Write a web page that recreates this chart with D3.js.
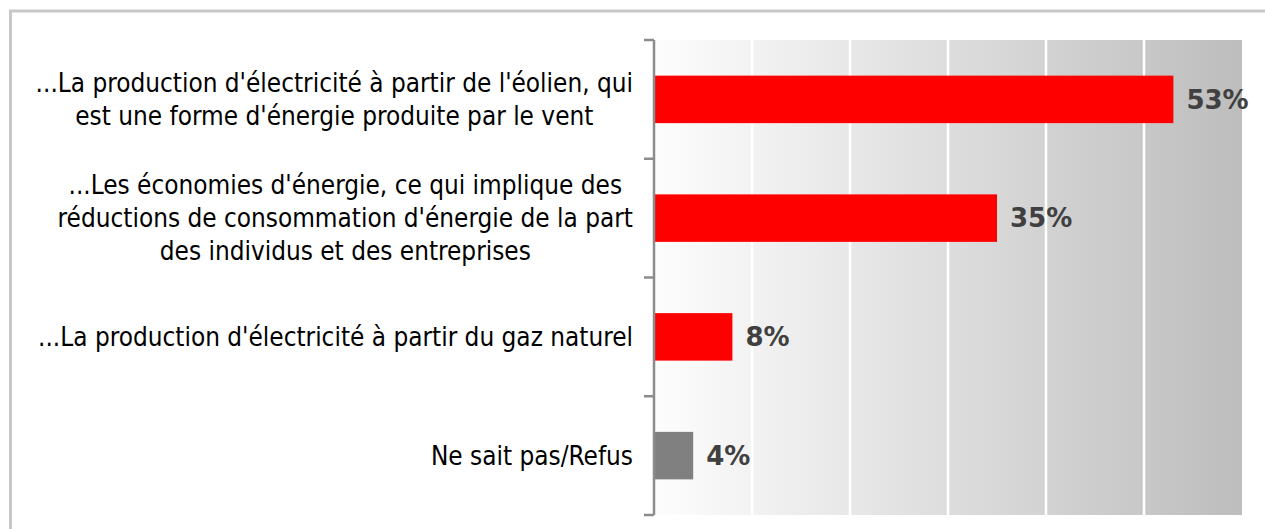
<!DOCTYPE html>
<html>
<head>
<meta charset="utf-8">
<script src="https://cdn.jsdelivr.net/npm/d3@7"></script>
<style>
  body { margin: 0; background: #fff; }
  svg { display: block; }
  .lbl { font-family: "DejaVu Sans Condensed", "DejaVu Sans", sans-serif; font-stretch: condensed; font-size: 25.9px; fill: #000; }
  .val { font-family: "DejaVu Sans", sans-serif; font-weight: bold; font-size: 26px; fill: #404040; }
</style>
</head>
<body>
<div id="chart"></div>
<script>
// categories (each label split into its lines)
const categories = [
  ["...La production d'électricité à partir de l'éolien, qui", "est une forme d'énergie produite par le vent"],
  ["...Les économies d'énergie, ce qui implique des", "réductions de consommation d'énergie de la part", "des individus et des entreprises"],
  ["...La production d'électricité à partir du gaz naturel"],
  ["Ne sait pas/Refus"]
];
const values = [53, 35, 8, 4];
const barColors = ["#ff0000", "#ff0000", "#ff0000", "#808080"];
const gridTicks = [10, 20, 30, 40, 50];

const W = 1265, H = 529;
const margin = { top: 40, left: 654, right: 23, bottom: 14 };

const svg = d3.select('#chart')
  .append('svg')
  .attr('width', W)
  .attr('height', H);

// outer frame
svg.append('rect')
  .attr('x', 10.5).attr('y', 11)
  .attr('width', W + 20).attr('height', H + 20)
  .attr('fill', 'none')
  .attr('stroke', '#c8c8c8')
  .attr('stroke-width', 3);

const x = d3.scaleLinear().domain([0, 60]).range([margin.left, W - margin.right]);
const y = d3.scaleBand()
  .domain(d3.range(categories.length))
  .range([margin.top, H - margin.bottom])
  .paddingInner(0.6)
  .paddingOuter(0.3);

// background gradient
const grad = svg.append('defs').append('linearGradient')
  .attr('id', 'bg').attr('x1', '0%').attr('x2', '100%');
grad.append('stop').attr('offset', '0%').attr('stop-color', '#fdfdfd');
grad.append('stop').attr('offset', '100%').attr('stop-color', '#bdbdbd');

svg.append('rect')
  .attr('x', x(0)).attr('y', margin.top)
  .attr('width', x(60) - x(0))
  .attr('height', H - margin.bottom - margin.top)
  .attr('fill', 'url(#bg)');

// white gridlines
svg.selectAll('.grid')
  .data(gridTicks)
  .enter()
  .append('line')
  .attr('x1', d => x(d)).attr('x2', d => x(d))
  .attr('y1', margin.top).attr('y2', H - margin.bottom)
  .attr('stroke', '#fff')
  .attr('stroke-width', 2.5);

// bars
svg.selectAll('.bar')
  .data(values)
  .enter()
  .append('rect')
  .attr('x', x(0) + 1)
  .attr('y', (d, i) => y(i))
  .attr('width', d => x(d) - x(0) - 1)
  .attr('height', y.bandwidth())
  .attr('fill', (d, i) => barColors[i]);

// value labels
svg.selectAll('.val')
  .data(values)
  .enter()
  .append('text')
  .attr('class', 'val')
  .attr('x', d => x(d) + 13)
  .attr('y', (d, i) => y(i) + y.bandwidth() / 2)
  .attr('dy', '0.36em')
  .text(d => d + '%');

// y axis
const axisTop = margin.top, axisBottom = H - margin.bottom;
const axisG = svg.append('g').attr('stroke', '#8c8c8c').attr('stroke-width', 2.5);
axisG.append('line')
  .attr('x1', x(0)).attr('x2', x(0))
  .attr('y1', axisTop).attr('y2', axisBottom);
axisG.selectAll('.tick')
  .data(d3.range(categories.length + 1))
  .enter()
  .append('line')
  .attr('x1', x(0) - 10).attr('x2', x(0))
  .attr('y1', i => axisTop + i * (axisBottom - axisTop) / categories.length)
  .attr('y2', i => axisTop + i * (axisBottom - axisTop) / categories.length);

// category labels (centered block, right edge at 633)
const lineH = 33;
categories.forEach((lines, i) => {
  const cy = y(i) + y.bandwidth() / 2;
  const g = svg.append('g');
  const texts = lines.map((t, k) => g.append('text')
    .attr('class', 'lbl')
    .attr('y', cy + (k - (lines.length - 1) / 2) * lineH)
    .attr('dy', '0.36em')
    .text(t));
  const widths = texts.map(t => t.node().getComputedTextLength());
  const maxW = d3.max(widths);
  const centerX = 633 - maxW / 2;
  texts.forEach(t => t.attr('x', centerX).attr('text-anchor', 'middle'));
});
</script>
</body>
</html>
